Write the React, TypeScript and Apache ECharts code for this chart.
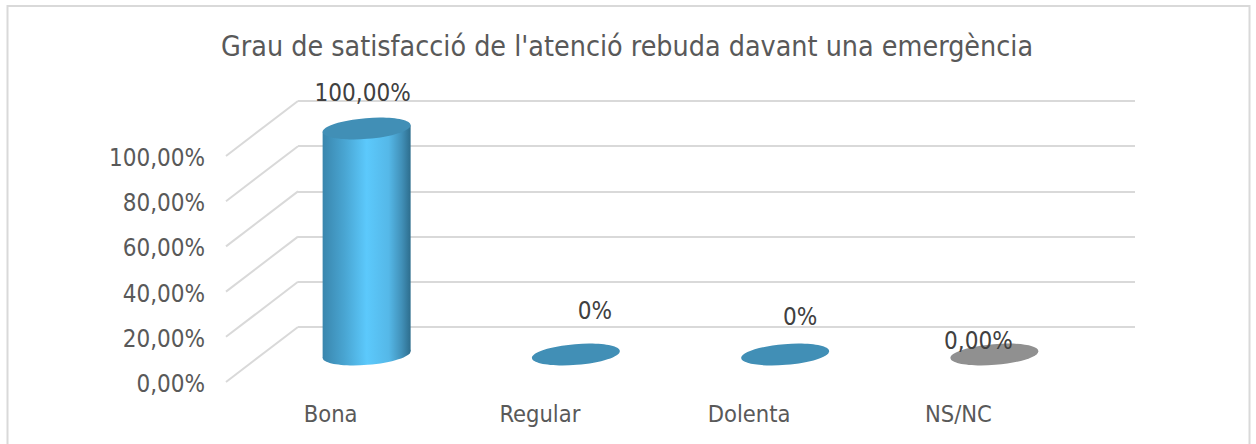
import React, { useEffect, useRef } from "react";
import * as echarts from "echarts";

const chartTitle = "Grau de satisfacció de l'atenció rebuda davant una emergència";
const categories = ["Bona", "Regular", "Dolenta", "NS/NC"];
const values = [1, 0, 0, 0];
const valueLabels = ["100,00%", "0%", "0%", "0,00%"];
const yTicks = [0, 0.2, 0.4, 0.6, 0.8, 1];
const yTickLabels = ["0,00%", "20,00%", "40,00%", "60,00%", "80,00%", "100,00%"];

const FONT = "'DejaVu Sans Condensed', 'Noto Sans', sans-serif";
const DEPTH_X = 72;
const DEPTH_Y = 55;
const HALF_W = 44;
const RX = 44.1;
const RY = 10.4;
const TILT_DEG = 4.6;
const TIP = 3.3;
const labelShift = [[-4, -36], [19, -44], [15, -38], [-16, -14]];
const capColors = ["#418fb6", "#418fb6", "#418fb6", "#909090"];

export default function App() {
  const ref = useRef<HTMLDivElement>(null);
  useEffect(() => {
    const chart = echarts.init(ref.current!, undefined, { renderer: "svg" });
    const bodyFill = new echarts.graphic.LinearGradient(0, 0, 1, 0, [
      { offset: 0, color: "#3a86ad" },
      { offset: 0.25, color: "#49a5d2" },
      { offset: 0.5, color: "#5cc9fc" },
      { offset: 0.75, color: "#55b8e8" },
      { offset: 0.9, color: "#4190b8" },
      { offset: 1, color: "#2d6d8d" },
    ]);
    chart.setOption({
      animation: false,
      backgroundColor: "#ffffff",
      title: {
        text: chartTitle,
        left: 622,
        top: 27,
        textAlign: "center",
        textStyle: { fontFamily: FONT, fontSize: 28.4, fontWeight: "normal", color: "#595959" },
      },
      graphic: [
        {
          type: "rect",
          silent: true,
          shape: { x: 7.5, y: 6, width: 1242, height: 460 },
          style: { fill: "none", stroke: "#d9d9d9", lineWidth: 2 },
        },
      ],
      grid: [
        { left: 226, top: 156, width: 837, height: 226 },
        { left: 226 + DEPTH_X, top: 156 - DEPTH_Y, width: 837, height: 226 },
      ],
      xAxis: [
        {
          type: "category",
          gridIndex: 0,
          data: categories,
          axisLine: { show: false },
          axisTick: { show: false },
          axisLabel: { fontFamily: FONT, fontSize: 23.5, color: "#595959", margin: 20 },
        },
        {
          type: "category",
          gridIndex: 1,
          data: categories,
          axisLine: { show: false },
          axisTick: { show: false },
          axisLabel: { show: false },
        },
      ],
      yAxis: [
        {
          type: "value",
          gridIndex: 0,
          min: 0,
          max: 1,
          interval: 0.2,
          axisLine: { show: false },
          axisTick: { show: false },
          splitLine: { show: false },
          axisLabel: {
            margin: 21,
            formatter: (v: number) => {
              const label = yTickLabels[yTicks.findIndex((t) => Math.abs(t - v) < 1e-6)] ?? "";
              return `{a|${label}}`;
            },
            rich: {
              a: {
                fontFamily: FONT,
                fontSize: 24,
                color: "#595959",
                padding: [4, 0, 0, 0],
              },
            },
          },
        },
        {
          type: "value",
          gridIndex: 1,
          min: 0,
          max: 1,
          interval: 0.2,
          axisLine: { show: false },
          axisTick: { show: false },
          axisLabel: { show: false },
          splitLine: { show: true, lineStyle: { color: "#d9d9d9", width: 2 } },
        },
      ],
      series: [
        {
          type: "custom",
          name: "floor",
          xAxisIndex: 0,
          yAxisIndex: 0,
          clip: false,
          silent: true,
          data: yTicks.map((t) => [0, t]),
          renderItem: (params: any, api: any) => {
            const y = api.coord([0, api.value(1)])[1];
            const x = params.coordSys.x;
            return {
              type: "line",
              shape: { x1: x, y1: y, x2: x + DEPTH_X, y2: y - DEPTH_Y },
              style: { stroke: "#d9d9d9", lineWidth: 2, fill: "none" },
            };
          },
        },
        {
          type: "custom",
          name: "Grau de satisfacció",
          xAxisIndex: 0,
          yAxisIndex: 0,
          clip: false,
          silent: true,
          data: values.map((v, i) => [i, v]),
          renderItem: (params: any, api: any) => {
            const i = params.dataIndex;
            const v = api.value(1);
            const top = api.coord([i, v]);
            const base = api.coord([i, 0]);
            const cx = top[0] + DEPTH_X / 2;
            const ty = top[1] - DEPTH_Y / 2;
            const by = base[1] - DEPTH_Y / 2;
            const rot = (TILT_DEG * Math.PI) / 180;
            const children: any[] = [];
            if (v > 0) {
              children.push({
                type: "ellipse",
                x: cx,
                y: by,
                rotation: rot,
                shape: { cx: 0, cy: 0, rx: RX, ry: RY },
                style: { fill: bodyFill },
              });
              children.push({
                type: "polygon",
                shape: {
                  points: [
                    [cx - HALF_W, ty + TIP],
                    [cx - HALF_W, by + TIP],
                    [cx + HALF_W, by - TIP],
                    [cx + HALF_W, ty - TIP],
                  ],
                },
                style: { fill: bodyFill },
              });
            }
            children.push({
              type: "ellipse",
              x: cx,
              y: ty,
              rotation: rot,
              shape: { cx: 0, cy: 0, rx: RX, ry: RY },
              style: { fill: capColors[i] },
            });
            children.push({
              type: "text",
              x: cx + labelShift[i][0],
              y: ty + labelShift[i][1],
              style: {
                text: valueLabels[i],
                fontFamily: FONT,
                fontSize: 24,
                fill: "#404040",
                align: "center",
                verticalAlign: "middle",
              },
            });
            return { type: "group", children };
          },
        },
      ],
    });
    return () => chart.dispose();
  }, []);
  return (
    <div
      ref={ref}
      style={{ position: "absolute", left: 0, top: 0, width: 1256, height: 444 }}
    />
  );
}
